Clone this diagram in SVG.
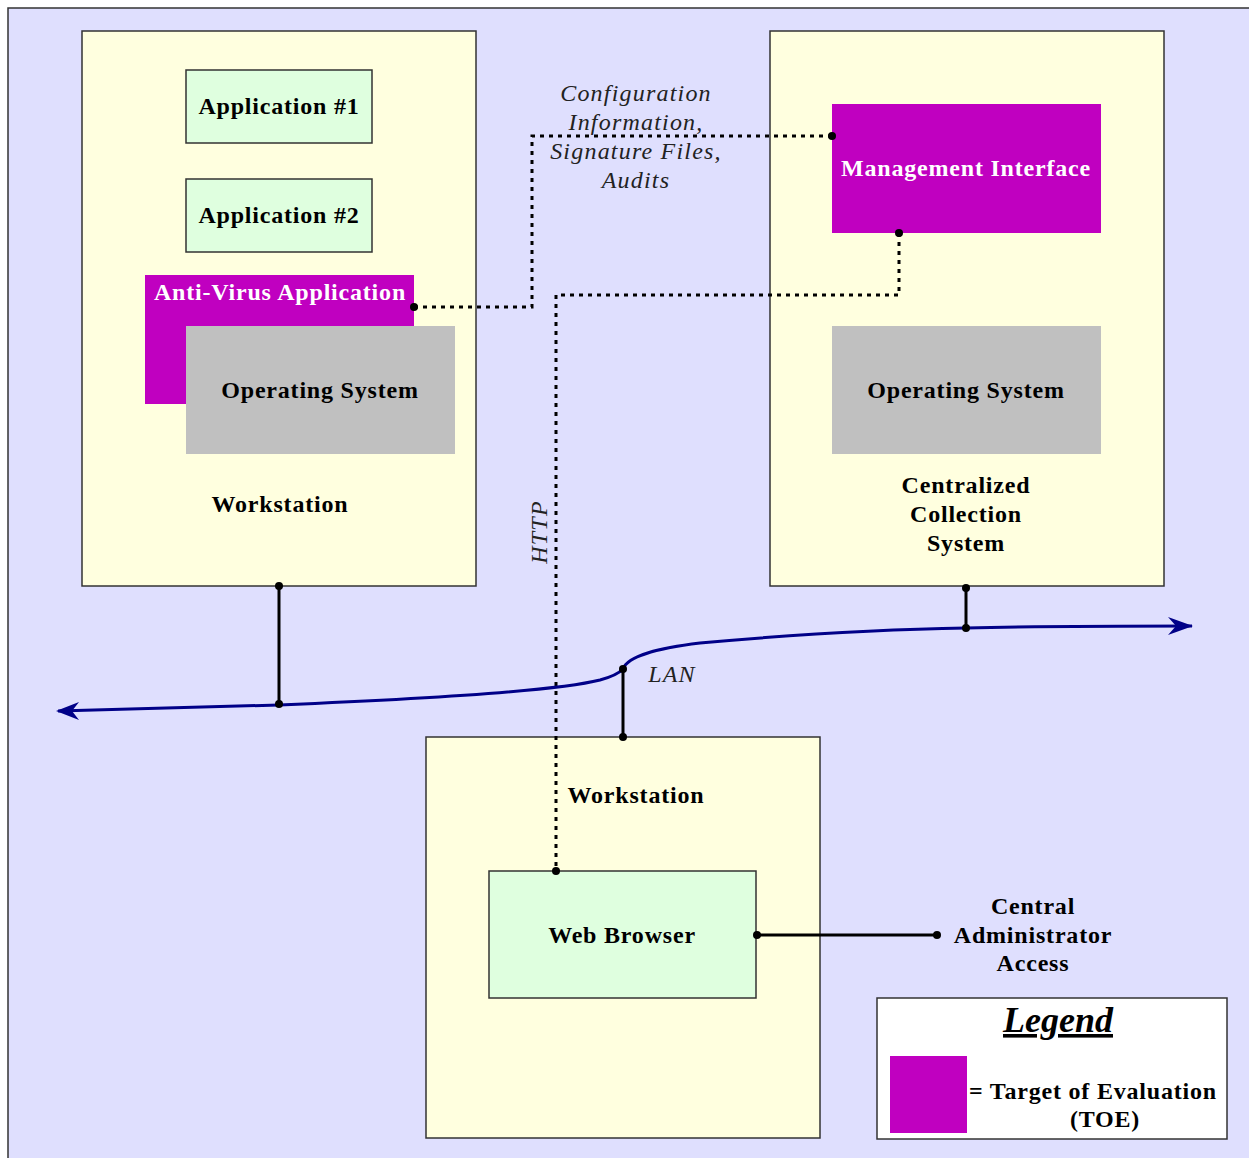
<svg xmlns="http://www.w3.org/2000/svg" width="1249" height="1158" viewBox="0 0 1249 1158">
<defs>
<style>
.bg{fill:#dfdffe;stroke:#333;stroke-width:1.5}
.ws{fill:#ffffdf;stroke:#333;stroke-width:1.5}
.app{fill:#dfffdf;stroke:#333;stroke-width:1.5}
.toe{fill:#c000c0}
.os{fill:#c0c0c0}
.t{font-family:"Liberation Serif",serif;font-weight:bold;font-size:24px;letter-spacing:0.8px;fill:#000;text-anchor:middle}
.tw{font-family:"Liberation Serif",serif;font-weight:bold;font-size:24px;letter-spacing:0.8px;fill:#fff;text-anchor:middle}
.it{font-family:"Liberation Serif",serif;font-style:italic;font-size:24px;letter-spacing:1.2px;fill:#222;text-anchor:middle}
.dot{fill:none;stroke:#000;stroke-width:3;stroke-dasharray:4 5}
.solid{fill:none;stroke:#000;stroke-width:3}
.lan{fill:none;stroke:#000088;stroke-width:3}
</style>
<marker id="arr" viewBox="0 0 26 20" refX="24" refY="10" markerWidth="26" markerHeight="20" markerUnits="userSpaceOnUse" orient="auto">
<path d="M0,1 L25,10 L0,19 L8,10 Z" fill="#000088"/>
</marker>
</defs>
<rect class="bg" x="8" y="8" width="1250" height="1160"/>

<g id="workstation1">
<rect class="ws" x="82" y="31" width="394" height="555"/>
<text class="t" x="280" y="512">Workstation</text>
</g>
<g id="app1">
<rect class="app" x="186" y="70" width="186" height="73"/>
<text class="t" x="279" y="114">Application #1</text>
</g>
<g id="app2">
<rect class="app" x="186" y="179" width="186" height="73"/>
<text class="t" x="279" y="223">Application #2</text>
</g>
<g id="antivirus">
<rect class="toe" x="145" y="275" width="269" height="129"/>
<text class="tw" x="280" y="300">Anti-Virus Application</text>
</g>
<g id="os1">
<rect class="os" x="186" y="326" width="269" height="128"/>
<text class="t" x="320" y="398">Operating System</text>
</g>

<g id="ccs">
<rect class="ws" x="770" y="31" width="394" height="555"/>
<text class="t" x="966" y="493">Centralized</text>
<text class="t" x="966" y="522">Collection</text>
<text class="t" x="966" y="551">System</text>
</g>
<g id="mgmt">
<rect class="toe" x="832" y="104" width="269" height="129"/>
<text class="tw" x="966" y="176">Management Interface</text>
</g>
<g id="os2">
<rect class="os" x="832" y="326" width="269" height="128"/>
<text class="t" x="966" y="398">Operating System</text>
</g>

<g id="workstation2">
<rect class="ws" x="426" y="737" width="394" height="401"/>
<text class="t" x="636" y="803">Workstation</text>
</g>
<g id="browser">
<rect class="app" x="489" y="871" width="267" height="127"/>
<text class="t" x="622" y="943">Web Browser</text>
</g>

<g id="central">
<text class="t" x="1033" y="914">Central</text>
<text class="t" x="1033" y="943">Administrator</text>
<text class="t" x="1033" y="971">Access</text>
</g>

<g id="legend">
<rect x="877" y="998" width="350" height="141" fill="#fff" stroke="#333" stroke-width="1.5"/>
<text x="1058" y="1032" font-family="'Liberation Serif',serif" font-style="italic" font-weight="bold" font-size="36" text-anchor="middle" text-decoration="underline" fill="#000">Legend</text>
<rect class="toe" x="890" y="1056" width="77" height="77"/>
<text class="t" x="1093" y="1099">= Target of Evaluation</text>
<text class="t" x="1105" y="1127">(TOE)</text>
</g>

<g id="connectors">
<path class="dot" d="M414,307 H532 V136 H832"/>
<path class="dot" d="M899,233 V295 H556 V871"/>
<path class="lan" d="M58,711 L279,705 C450,698 560,690 600,680 C618,675 622,670 623,669 C628,655 660,648 700,643 C800,634 900,629 966,628 C1050,626 1130,626 1192,626" marker-end="url(#arr)"/>
<path d="M56,711 L79,702 L72,711 L79,720 Z" fill="#000088"/>
<path class="solid" d="M279,586 V704"/>
<path class="solid" d="M966,586 V628"/>
<path class="solid" d="M623,669 V737"/>
<path class="solid" d="M757,935 H937"/>
<g fill="#000">
<circle cx="414" cy="307" r="4"/>
<circle cx="832" cy="136" r="4"/>
<circle cx="899" cy="233" r="4"/>
<circle cx="556" cy="871" r="4"/>
<circle cx="279" cy="586" r="4"/>
<circle cx="279" cy="704" r="4"/>
<circle cx="966" cy="588" r="4"/>
<circle cx="966" cy="628" r="4"/>
<circle cx="623" cy="669" r="4"/>
<circle cx="623" cy="737" r="4"/>
<circle cx="757" cy="935" r="4"/>
<circle cx="937" cy="935" r="4"/>
</g>
<text class="it" x="636" y="101">Configuration</text>
<text class="it" x="636" y="130">Information,</text>
<text class="it" x="636" y="159">Signature Files,</text>
<text class="it" x="636" y="188">Audits</text>
<text class="it" x="672" y="682">LAN</text>
<text class="it" transform="translate(547,532) rotate(-90)">HTTP</text>
</g>
</svg>
